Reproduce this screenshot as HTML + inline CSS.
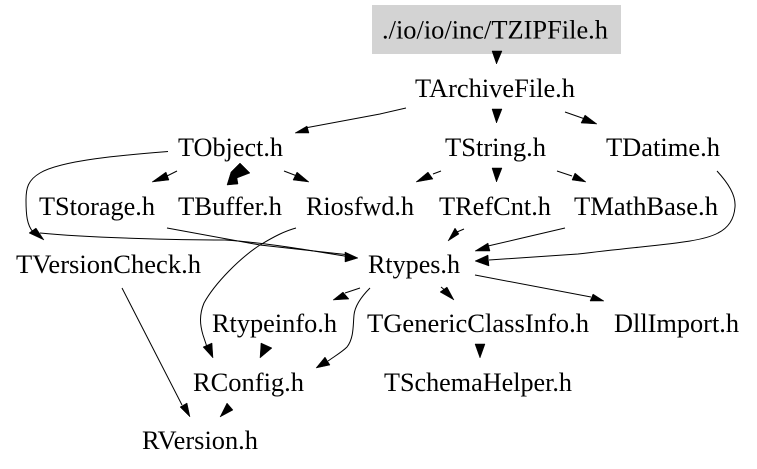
<!DOCTYPE html>
<html>
<head>
<meta charset="utf-8">
<style>
html,body{margin:0;padding:0;background:#fff;}
svg{display:block;}
text{font-family:"Liberation Serif",serif;font-size:26px;fill:#000;}
path{fill:none;stroke:#000;stroke-width:1;}
polygon{fill:#000;stroke:#000;stroke-width:.5;}
</style>
</head>
<body>
<svg width="757" height="469" viewBox="0 0 757 469" xmlns="http://www.w3.org/2000/svg">
<rect x="372" y="5" width="249" height="49" fill="#d3d3d3"/>
<text x="382" y="38.5" textLength="226" lengthAdjust="spacingAndGlyphs">./io/io/inc/TZIPFile.h</text>
<text x="415" y="97" textLength="160" lengthAdjust="spacingAndGlyphs">TArchiveFile.h</text>
<text x="178" y="156" textLength="105" lengthAdjust="spacingAndGlyphs">TObject.h</text>
<text x="445" y="156" textLength="101" lengthAdjust="spacingAndGlyphs">TString.h</text>
<text x="606" y="156" textLength="114" lengthAdjust="spacingAndGlyphs">TDatime.h</text>
<text x="39" y="215" textLength="116" lengthAdjust="spacingAndGlyphs">TStorage.h</text>
<text x="178" y="215" textLength="104" lengthAdjust="spacingAndGlyphs">TBuffer.h</text>
<text x="306" y="215" textLength="108" lengthAdjust="spacingAndGlyphs">Riosfwd.h</text>
<text x="439" y="215" textLength="112" lengthAdjust="spacingAndGlyphs">TRefCnt.h</text>
<text x="574" y="215" textLength="144" lengthAdjust="spacingAndGlyphs">TMathBase.h</text>
<text x="16" y="273" textLength="185" lengthAdjust="spacingAndGlyphs">TVersionCheck.h</text>
<text x="368" y="273" textLength="92" lengthAdjust="spacingAndGlyphs">Rtypes.h</text>
<text x="212" y="332" textLength="125" lengthAdjust="spacingAndGlyphs">Rtypeinfo.h</text>
<text x="367" y="332" textLength="222" lengthAdjust="spacingAndGlyphs">TGenericClassInfo.h</text>
<text x="614" y="332" textLength="125" lengthAdjust="spacingAndGlyphs">DllImport.h</text>
<text x="193" y="391" textLength="111" lengthAdjust="spacingAndGlyphs">RConfig.h</text>
<text x="384" y="391" textLength="188" lengthAdjust="spacingAndGlyphs">TSchemaHelper.h</text>
<text x="142" y="449" textLength="116" lengthAdjust="spacingAndGlyphs">RVersion.h</text>

<path d="M406,108 L380,114 L305,128"/>
<polygon points="295,133 307,126 309,133"/>
<path d="M565,112 L585,119"/>
<polygon points="597,124 585,115 581,123"/>
<polygon points="492,51 502,51 496.5,64"/>
<polygon points="492,109 502,109 496.5,123"/>

<path d="M168,151.5 C125,155 62,160 40,173 C28,180 26,188 26,200 C26,215 27,225 33,232"/>
<polygon points="44,240 29,233 36,228"/>
<path d="M177,171 L165,177"/>
<polygon points="152,182 166,172 169,180"/>
<polygon points="227,185 231,172 240,163 250,173 237,178 238,184"/>
<path d="M284,171 L297,176"/>
<polygon points="309,182 293,180 297,172"/>

<path d="M441,171 L433,174"/>
<polygon points="416,182 428,172 433,179"/>
<polygon points="492,168 502,168 496.5,182"/>
<path d="M557,171 L572,176"/>
<polygon points="586,182 575,173 572,180"/>

<path d="M40,233 C90,238 180,240 225,240 C270,243 320,252 350,257"/>
<path d="M167,228 L260,245 L350,255"/>
<polygon points="358,258 345,252 345,262"/>
<path d="M296,228 C285,231 275,236 260,245 C240,258 215,283 204,303 C199,315 200,325 203,335 L207,347"/>
<polygon points="213,358 203,347 212,343"/>

<polygon points="448,241 455,228 459,234"/>
<path d="M464,229 L457,232"/>
<path d="M565,228 L518,239 L488,246"/>
<polygon points="475,251 488,243 490,251"/>
<path d="M717,171 C728,183 736,195 735,207 C734,220 728,228 718,233 C700,243 660,244 578,254 L489,260"/>
<polygon points="475,261 488,255 489,266"/>

<path d="M122,288 L182,405"/>
<polygon points="190,417 180,407 187,403"/>

<path d="M360,288 L345,293"/>
<polygon points="333,300 343,292 349,299"/>
<path d="M370,288 C362,296 355,305 354,315 C353,325 354,338 347,347 C342,352 335,356 328,361"/>
<polygon points="316,368 325,357 330,365"/>
<polygon points="454,300 440,292 447,287"/>
<path d="M441,287 L446,291"/>
<path d="M475,275 L591,297"/>
<polygon points="604,301 593,294 590,301"/>
<polygon points="260,358 261,343 272,348"/>
<polygon points="475,344 485,344 480,358"/>
<polygon points="220,417 227,403 233,410"/>
</svg>
</body>
</html>
